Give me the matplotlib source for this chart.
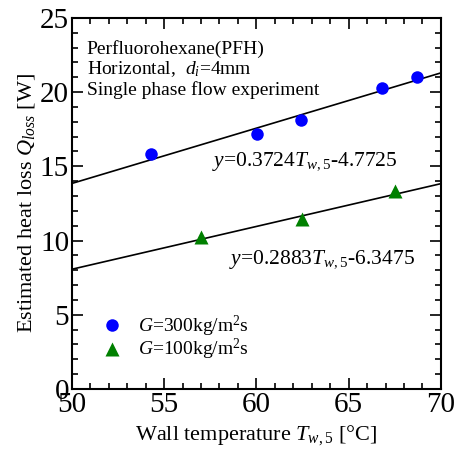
import numpy as np
import matplotlib
matplotlib.use("Agg")
import matplotlib.pyplot as plt
from matplotlib.ticker import MultipleLocator

plt.rcParams['font.family'] = ['Liberation Serif', 'DejaVu Serif']
plt.rcParams['mathtext.fontset'] = 'custom'
plt.rcParams['mathtext.rm'] = 'Liberation Serif'
plt.rcParams['mathtext.it'] = 'Liberation Serif:italic'

# --- data ---
tw_300 = [54.3, 60.05, 62.4, 66.8, 68.7]
q_300 = [15.85, 17.15, 18.15, 20.25, 21.05]
tw_100 = [57.0, 62.45, 67.5]
q_100 = [10.25, 11.45, 13.35]
fit_300 = (0.3724, -4.7725)
fit_100 = (0.2883, -6.3475)

fig = plt.figure(figsize=(4.55, 4.59), dpi=100)
ax = fig.add_axes([0.158, 0.1525, 0.811, 0.8085])

xx = np.array([50, 70])
ax.plot(xx, fit_300[0] * xx + fit_300[1], color='black', lw=1.2, zorder=2)
ax.plot(xx, fit_100[0] * xx + fit_100[1], color='black', lw=1.2, zorder=2)

ax.plot(tw_300, q_300, 'o', color='#0000ff', ms=9, mec='none', zorder=3,
        label=r'$G$=300kg/m$^2$s')
ax.plot(tw_100, q_100, '^', color='#008000', ms=10, mec='none', zorder=3,
        label=r'$G$=100kg/m$^2$s')

ax.set_xlim(50, 70)
ax.set_ylim(0, 25)
ax.xaxis.set_major_locator(MultipleLocator(5))
ax.xaxis.set_minor_locator(MultipleLocator(1))
ax.yaxis.set_major_locator(MultipleLocator(5))
ax.yaxis.set_minor_locator(MultipleLocator(1))
ax.tick_params(which='both', direction='in', top=True, right=True, width=1.2)
ax.tick_params(which='major', length=8, labelsize=21, pad=2)
ax.tick_params(which='minor', length=4)
for s in ax.spines.values():
    s.set_linewidth(1.5)

ax.set_xlabel(r'Wall temperature $T_{\mathit{w,5}}$ [°C]', fontsize=16, labelpad=4)
ax.set_ylabel(r'Estimated heat loss $Q_{loss}$ [W]', fontsize=16, labelpad=2)

ax.text(0.04, 0.94, 'Perfluorohexane(PFH)\nHorizontal,  $d_i$=4mm\nSingle phase flow experiment',
        transform=ax.transAxes, fontsize=14, va='top', linespacing=1.1)
ax.text(57.6, 15.0, r'$y$=0.3724$T_{\mathit{w,5}}$-4.7725', fontsize=15.5)
ax.text(58.5, 8.4, r'$y$=0.2883$T_{\mathit{w,5}}$-6.3475', fontsize=15.5)

ax.legend(loc='lower left', bbox_to_anchor=(0.02, 0.035), frameon=False, fontsize=14,
          handletextpad=0.3, labelspacing=-0.1, borderpad=0.2)

fig.savefig('out.png', dpi=100)
